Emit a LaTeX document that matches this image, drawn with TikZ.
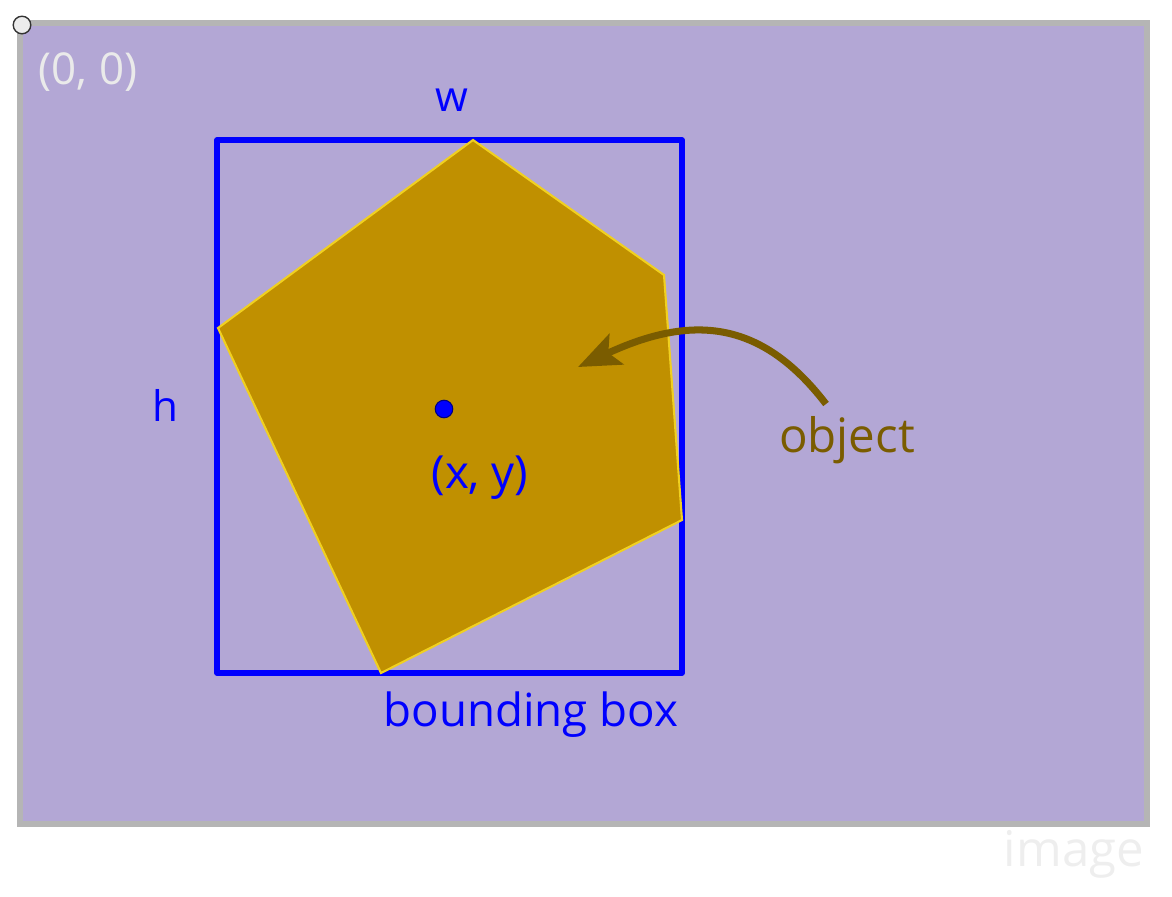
\documentclass[tikz,border=0pt]{standalone}
\usepackage{fontspec}
\setmainfont{Open Sans}
\usetikzlibrary{arrows.meta}
\definecolor{ImgPurple}{RGB}{179,167,213}
\definecolor{ImgBorder}{RGB}{181,181,181}
\definecolor{ObjFill}{RGB}{192,144,0}
\definecolor{ObjEdge}{RGB}{240,208,32}
\definecolor{ObjBrown}{RGB}{122,92,0}
\definecolor{PaleText}{RGB}{234,234,234}

\begin{document}
\begin{tikzpicture}[
    x=0.02cm,
    y=-0.02cm,
    img/.style={
        draw=ImgBorder,
        line width=3.4pt,
        fill=ImgPurple
    },
    bbox/.style={
        draw=blue,
        line width=2.9pt,
        line join=round
    },
    obj/.style={
        draw=ObjEdge,
        line width=1.2pt,
        fill=ObjFill
    },
    lbl/.style={
        text=blue,
        font=\fontsize{26}{30}\selectfont,
        inner sep=0pt
    },
    pale/.style={
        text=PaleText,
        font=\fontsize{25}{30}\selectfont,
        inner sep=0pt
    },
    pointer/.style={
        draw=ObjBrown,
        line width=4pt,
        -{Stealth[length=24pt,width=19pt,inset=5pt]}
    }
]

\useasboundingbox (0,0) rectangle (1172,896);

\draw[img] (20,23) rectangle (1147,824);
\node[circle, draw=black!80, fill=gray!15, thick, minimum size=10pt, inner sep=0pt] (origin) at (22,25) {};
\node[pale] (zero) at (88,72) {(0, 0)};
\node[pale, text=gray!13, font=\fontsize{28}{30}\selectfont] (imgname) at (1074,854) {image};

\draw[bbox] (217,140) rectangle (682,673);
\draw[obj] (473,140) -- (664,275) -- (682,520) -- (381,673) -- (218,328) -- cycle;

\node[circle, draw=blue!50!black, fill=blue, line width=0.6pt, minimum size=10pt, inner sep=0pt] (center) at (444,409) {};
\node[lbl] (xy) at (480,478) {(x, y)};
\node[lbl, font=\fontsize{24}{28}\selectfont] (wlabel) at (452,100) {w};
\node[lbl, font=\fontsize{24}{28}\selectfont] (hlabel) at (165,405) {h};
\node[lbl] (bboxlabel) at (531,715) {bounding box};

\node[lbl, text=ObjBrown, font=\fontsize{27}{30}\selectfont] (objlabel) at (847,440) {object};
\coordinate (tail) at (826,404);
\coordinate (tip) at (578,367);
\draw[pointer] (tail) .. controls (760,318) and (690,315) .. (tip);

\end{tikzpicture}
\end{document}
